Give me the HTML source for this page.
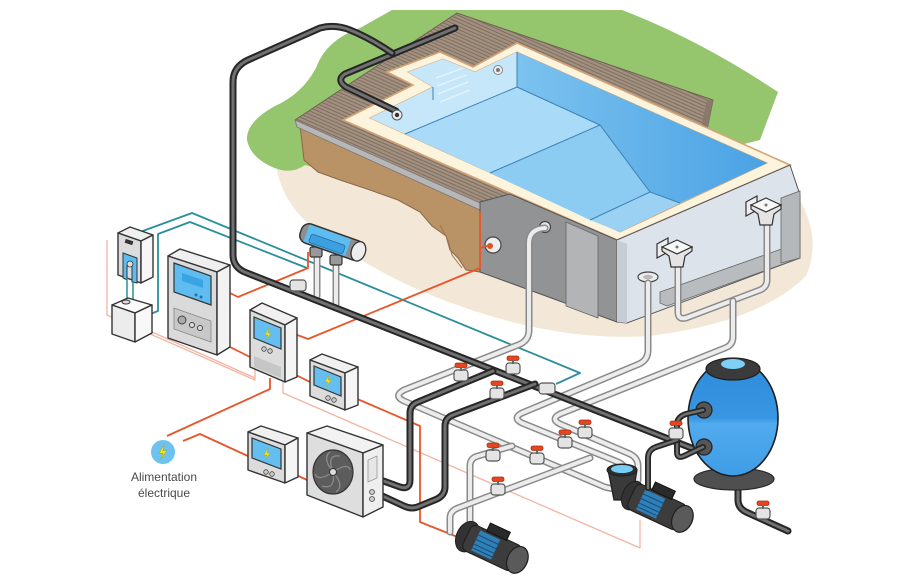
<!DOCTYPE html>
<html><head><meta charset="utf-8"><style>
html,body{margin:0;padding:0;background:#fff;}
svg{display:block;}
.dpo{fill:none;stroke:#262626;stroke-width:7;stroke-linejoin:round;stroke-linecap:round}
.dpi{fill:none;stroke:#707070;stroke-width:3;stroke-linejoin:round;stroke-linecap:round}
.lpo{fill:none;stroke:#8a8a8a;stroke-width:7;stroke-linejoin:round;stroke-linecap:round}
.lpi{fill:none;stroke:#ececec;stroke-width:4;stroke-linejoin:round;stroke-linecap:round}
.or{fill:none;stroke:#e8552a;stroke-width:1.8;stroke-linejoin:round}
.pk{fill:none;stroke:#f3b4a2;stroke-width:1.3;stroke-linejoin:round}
.tl{fill:none;stroke:#2a8f9b;stroke-width:1.8;stroke-linejoin:round}
.bx{stroke:#333;stroke-width:1.4;stroke-linejoin:round}
</style></head><body>
<svg width="920" height="583" viewBox="0 0 920 583" xmlns="http://www.w3.org/2000/svg">
<defs>
<pattern id="deck" width="6" height="3.2" patternUnits="userSpaceOnUse" patternTransform="rotate(23.7)">
<rect width="6" height="3.2" fill="#a39180"/><rect y="2.2" width="6" height="1" fill="#7e6d60"/>
</pattern>
<linearGradient id="deep" x1="0" y1="0" x2="1" y2="0"><stop offset="0" stop-color="#7cc2ef"/><stop offset="1" stop-color="#4aa2e4"/></linearGradient>
<linearGradient id="tank" x1="0" y1="0" x2="0" y2="1"><stop offset="0" stop-color="#2f8bdc"/><stop offset="0.5" stop-color="#3796e2"/><stop offset="0.55" stop-color="#52aaee"/><stop offset="1" stop-color="#3e9de6"/></linearGradient>
<g id="valve"><rect x="-7" y="-5" width="14" height="11" rx="3" fill="#e4e4e4" stroke="#555" stroke-width="1.2"/><rect x="-6" y="-12" width="12" height="4.5" rx="2" fill="#e4461f" stroke="#a92d10" stroke-width="0.8"/><rect x="-1" y="-8" width="2" height="4" fill="#666"/></g>
<g id="coupler"><rect x="-8" y="-5" width="16" height="11" rx="3" fill="#e4e4e4" stroke="#555" stroke-width="1.2"/></g>
<path id="bolt" d="M1,-6 L-3,1 L0,1 L-2,6 L3,-1 L0,-1 Z" fill="#f3e21b" stroke="#b9a800" stroke-width="0.4"/>
</defs>

<!-- ground beige -->
<path d="M278,140 L277,170 Q285,212 330,240 Q390,282 460,306 Q560,342 650,336 Q760,322 806,276 Q822,240 800,200 L700,120 L400,60 Z" fill="#f3e8d8"/>
<!-- grass -->
<path d="M247,140 Q246,122 275,106 Q302,94 316,68 Q326,40 360,28 L392,10 L622,10 Q700,40 778,92 L760,140 L480,210 L305,165 Q290,176 270,166 Q250,156 247,140 Z" fill="#95c56c"/>
<!-- dirt -->
<path d="M300,125 L480,205 L480,272 L466,270 L458,258 L450,250 L446,236 L432,226 L420,212 L398,200 L370,190 L340,180 L318,172 L304,160 Z" fill="#b99266" stroke="#8c6a45" stroke-width="1"/>
<path d="M440,225 L448,240 L452,255 L462,268" fill="none" stroke="#9d7750" stroke-width="1"/>
<!-- deck -->
<polygon points="295,120 457,13 713,100 706,135 790,165 617,240 510,200 480,205" fill="url(#deck)" stroke="#6f6055" stroke-width="1"/>
<polygon points="295,120 480,203 480,210 297,127" fill="#b7b7b7" stroke="#777" stroke-width="0.8"/>
<polygon points="713,100 706,135 700,132 707,100" fill="#8b7a6c"/>
<!-- coping -->
<polygon points="343,120 413,85 387,72 440,52 473,67 517,43 790,165 617,240" fill="#fdf4de" stroke="#d5a577" stroke-width="1.6"/>
<!-- water -->
<polygon points="370,118 433,87 408,72 443,59 475,72 517,52 767,163 620,232" fill="#94cff2" stroke="#d5a577" stroke-width="1"/>
<polygon points="370,118 433,87 408,72 443,59 475,72 517,52 517,87 405,134" fill="#c6e7fa"/>
<polygon points="517,52 767,163 680,203 650,192 600,125 517,87" fill="url(#deep)"/>
<polygon points="405,134 517,87 600,125 490,173" fill="#a9daf7"/>
<polygon points="490,173 600,125 650,192 590,220" fill="#8ccbf2"/>
<polygon points="590,220 650,192 680,203 620,232" fill="#9bd2f4"/>
<g fill="none" stroke="#3c82b6" stroke-width="1">
<path d="M405,134 L517,87 L517,52"/><path d="M517,87 L600,125 L650,192 L680,203"/><path d="M490,173 L600,125"/><path d="M590,220 L650,192"/>
<path d="M433,87 L433,100"/>
</g>
<g stroke="#e6f4fd" stroke-width="1.3"><path d="M436,78 L463,68"/><path d="M437,86 L466,75"/><path d="M438,94 L468,82"/><path d="M440,102 L470,90"/></g>
<!-- pool body -->
<polygon points="480,202 510,194 617,240 617,322 480,272" fill="#929394" stroke="#555" stroke-width="1"/>
<polygon points="566,222 598,236 598,318 566,306" fill="#b3b4b5" stroke="#666" stroke-width="0.8"/>
<polygon points="617,240 790,165 800,195 800,258 627,323 617,322" fill="#dce3ea" stroke="#555" stroke-width="1"/>
<polygon points="660,292 790,246 800,246 800,258 667,306 660,303" fill="#b9bcbf" stroke="#666" stroke-width="0.8"/>
<polygon points="781,198 800,191 800,258 781,263" fill="#b5b8bb" stroke="#666" stroke-width="0.8"/>
<polygon points="617,240 627,244 627,323 617,322" fill="#c5ccd3"/>
<!-- deck pipes -->
<path class="dpo" d="M455,28 L345,74 Q336,80 346,87 L396,111"/><path class="dpi" d="M455,28 L345,74 Q336,80 346,87 L396,111"/>
<!-- pool fittings -->
<circle cx="397" cy="115" r="5" fill="#eee" stroke="#555"/><circle cx="397" cy="115" r="2.2" fill="#333"/>
<circle cx="498" cy="70" r="4.5" fill="#eee" stroke="#888"/><circle cx="498" cy="70" r="2" fill="#777"/>
<circle cx="493" cy="245" r="8" fill="#eee" stroke="#444" stroke-width="1.2"/><circle cx="490" cy="246" r="3" fill="#d9532a"/>
<circle cx="545" cy="227" r="5.5" fill="#e6e6e6" stroke="#444" stroke-width="1.2"/>
<ellipse cx="648" cy="277" rx="10" ry="5" fill="#eee" stroke="#444" stroke-width="1.2"/><ellipse cx="648" cy="277" rx="5" ry="2.3" fill="#bbb"/>

<!-- pink lines -->
<path class="pk" d="M107,240 L107,315 L255,380 L255,360"/>
<path class="pk" d="M152,332 L255,378"/>
<path class="pk" d="M283,382 L283,393 L640,548 L640,520"/>
<!-- teal -->
<path class="tl" d="M140,232 L192,213 L580,373 L556,384"/>
<path class="tl" d="M140,318 L158,311 L158,234 L190,222 L307,268"/>
<!-- orange -->
<path class="or" d="M220,288 L238,297 L308,268 L308,252"/>
<path class="or" d="M292,333 L308,339 L480,268 L480,212"/>
<path class="or" d="M480,248 L490,245"/>
<path class="or" d="M222,343 L250,357"/>
<path class="or" d="M270,378 L270,389 L167,436"/>
<path class="or" d="M183,441 L200,434 L250,457"/>
<path class="or" d="M292,473 L307,480"/>
<path class="or" d="M355,398 L420,426 L420,522 L460,538"/>
<path class="or" d="M292,373 L310,382"/>

<!-- light pipes -->
<g>
<path class="lpo" d="M545,228 Q529,229 529,243 L529,330 Q529,341 518,345 L404,390 Q393,396 404,401 L600,485 Q610,490 620,488"/>
<path class="lpi" d="M545,228 Q529,229 529,243 L529,330 Q529,341 518,345 L404,390 Q393,396 404,401 L600,485 Q610,490 620,488"/>
<path class="lpo" d="M648,283 L648,350 Q648,360 639,364 L522,413 Q512,418 522,423 L618,462 Q625,465 625,472 L625,482"/>
<path class="lpi" d="M648,283 L648,350 Q648,360 639,364 L522,413 Q512,418 522,423 L618,462 Q625,465 625,472 L625,482"/>
<path class="lpo" d="M678,262 L678,312 Q678,320 686,318 L760,290 Q767,287 767,280 L767,226"/>
<path class="lpi" d="M678,262 L678,312 Q678,320 686,318 L760,290 Q767,287 767,280 L767,226"/>
<path class="lpo" d="M733,301 L733,337 Q733,345 725,348 L560,414 Q550,419 560,424 L630,454 Q638,458 638,466 L638,480"/>
<path class="lpi" d="M733,301 L733,337 Q733,345 725,348 L560,414 Q550,419 560,424 L630,454 Q638,458 638,466 L638,480"/>
<path class="lpo" d="M470,530 L470,466 Q470,458 478,456 L512,446"/>
<path class="lpi" d="M470,530 L470,466 Q470,458 478,456 L512,446"/>
<path class="lpo" d="M450,532 L450,518 Q450,511 458,508 L590,458"/>
<path class="lpi" d="M450,532 L450,518 Q450,511 458,508 L590,458"/>
<path class="lpo" d="M317,255 L317,296 M336,262 L336,304"/>
<path class="lpi" d="M317,255 L317,296 M336,262 L336,304"/>
</g>

<!-- dark pipes -->
<path class="dpo" d="M392,53 Q370,38 350,30 Q335,24 320,28 L248,60 Q233,67 233,82 L233,255 Q233,268 247,273 L732,464 Q738,467 738,474 L738,500 Q738,508 746,512 L788,531"/>
<path class="dpi" d="M392,53 Q370,38 350,30 Q335,24 320,28 L248,60 Q233,67 233,82 L233,255 Q233,268 247,273 L732,464 Q738,467 738,474 L738,500 Q738,508 746,512 L788,531"/>
<path class="dpo" d="M378,479 L400,487 Q410,490 410,480 L410,413 Q410,405 418,402 L493,371"/>
<path class="dpi" d="M378,479 L400,487 Q410,490 410,480 L410,413 Q410,405 418,402 L493,371"/>
<path class="dpo" d="M378,494 L404,506 Q412,510 420,506 L437,499 Q445,495 445,487 L445,426 Q445,418 453,415 L535,384"/>
<path class="dpi" d="M378,494 L404,506 Q412,510 420,506 L437,499 Q445,495 445,487 L445,426 Q445,418 453,415 L535,384"/>

<!-- chlorinator -->
<g>
<rect x="310" y="247" width="12" height="10" rx="2" fill="#999" stroke="#333" stroke-width="1.2"/>
<rect x="330" y="255" width="12" height="10" rx="2" fill="#999" stroke="#333" stroke-width="1.2"/>
<g transform="translate(332,242) rotate(19.5)">
<rect x="-33" y="-10" width="66" height="20" rx="8" fill="#8e8e8e" stroke="#333" stroke-width="1.5"/>
<rect x="-27" y="-9" width="44" height="18" fill="#5dbdf0"/>
<rect x="-22" y="-1" width="36" height="9" rx="2" fill="#3b9fe0" stroke="#2a6f9f" stroke-width="0.8"/>
<ellipse cx="28" cy="0" rx="7" ry="10" fill="#eee" stroke="#333" stroke-width="1.3"/>
</g>
</g>
<use href="#coupler" x="298" y="285"/>

<!-- dosing box -->
<g class="bx">
<polygon points="118,233 130,227 153,235 141,241" fill="#f0f0f0"/>
<polygon points="118,233 141,241 141,283 118,275" fill="#dcdcdc"/>
<polygon points="141,241 153,235 153,277 141,283" fill="#f6f6f6"/>
</g>
<rect x="125" y="240" width="8" height="4" fill="#333" transform="rotate(18 129 242)"/>
<path d="M123,253 L137,258 L137,283 L132,282 L132,265 Q128,262 127,266 L127,280 L123,278 Z" fill="#5dbdf0" stroke="#333" stroke-width="1"/>
<circle cx="130" cy="264" r="3" fill="#ddd" stroke="#333" stroke-width="0.8"/>
<path d="M127,278 L127,300 M133,281 L133,300" stroke="#2a8f9b" stroke-width="1.5"/>
<g class="bx">
<polygon points="112,305 128,298 152,305 135,313" fill="#fafafa"/>
<polygon points="112,305 135,313 135,342 112,334" fill="#ececec"/>
<polygon points="135,313 152,305 152,333 135,342" fill="#f8f8f8"/>
</g>
<ellipse cx="126" cy="302" rx="4" ry="2" fill="#ddd" stroke="#333" stroke-width="1"/>

<!-- big controller -->
<g class="bx">
<polygon points="168,256 180,249 230,265 217,272" fill="#efefef"/>
<polygon points="168,256 217,272 217,355 168,338" fill="#dadada"/>
<polygon points="217,272 230,265 230,347 217,355" fill="#f2f2f2"/>
</g>
<polygon points="174,263 211,276 211,305 174,292" fill="#5fbcf0" stroke="#333" stroke-width="1.2"/>
<polygon points="182,273 203,280 203,288 182,281" fill="#3aa3e4"/>
<circle cx="196" cy="295" r="1.5" fill="#2a6f9f"/><circle cx="201" cy="297" r="1.5" fill="#2a6f9f"/>
<polygon points="174,308 211,321 211,342 174,329" fill="#c8c8c8" stroke="#888" stroke-width="0.8"/>
<circle cx="182" cy="320" r="4" fill="#aaa" stroke="#444"/><circle cx="192" cy="325" r="2.5" fill="#ddd" stroke="#444"/><circle cx="200" cy="328" r="2.5" fill="#ddd" stroke="#444"/>

<!-- box 2 -->
<g class="bx">
<polygon points="250,310 262,303 297,318 285,325" fill="#f0f0f0"/>
<polygon points="250,310 285,325 285,382 250,367" fill="#dcdcdc"/>
<polygon points="285,325 297,318 297,377 285,382" fill="#f5f5f5"/>
</g>
<polygon points="254,317 281,328 281,349 254,338" fill="#64bff0" stroke="#333" stroke-width="1.2"/>
<use href="#bolt" x="268" y="334"/>
<circle cx="264" cy="349" r="2.3" fill="#ccc" stroke="#444" stroke-width="0.8"/><circle cx="270" cy="351" r="2.3" fill="#ccc" stroke="#444" stroke-width="0.8"/>
<polygon points="254,356 281,367 281,378 254,367" fill="#c6c6c6"/>

<!-- box 3 -->
<g class="bx">
<polygon points="310,360 322,354 358,367 345,373" fill="#f0f0f0"/>
<polygon points="310,360 345,373 345,410 310,396" fill="#dcdcdc"/>
<polygon points="345,373 358,367 358,405 345,410" fill="#f5f5f5"/>
</g>
<polygon points="314,366 341,377 341,396 314,385" fill="#64bff0" stroke="#333" stroke-width="1.2"/>
<use href="#bolt" x="328" y="381"/>
<circle cx="328" cy="398" r="2.3" fill="#ccc" stroke="#444" stroke-width="0.8"/><circle cx="334" cy="400" r="2.3" fill="#ccc" stroke="#444" stroke-width="0.8"/>

<!-- box 4 -->
<g class="bx">
<polygon points="248,432 261,426 298,438 285,445" fill="#f0f0f0"/>
<polygon points="248,432 285,445 285,483 248,470" fill="#dcdcdc"/>
<polygon points="285,445 298,438 298,477 285,483" fill="#f5f5f5"/>
</g>
<polygon points="252,438 281,449 281,469 252,458" fill="#64bff0" stroke="#333" stroke-width="1.2"/>
<use href="#bolt" x="267" y="454"/>
<circle cx="266" cy="472" r="2.3" fill="#ccc" stroke="#444" stroke-width="0.8"/><circle cx="272" cy="474" r="2.3" fill="#ccc" stroke="#444" stroke-width="0.8"/>

<!-- heat pump -->
<g class="bx">
<polygon points="307,433 327,426 383,445 363,453" fill="#f2f2f2"/>
<polygon points="307,433 363,453 363,517 307,495" fill="#dedede"/>
<polygon points="363,453 383,445 383,507 363,517" fill="#efefef"/>
</g>
<ellipse cx="333" cy="472" rx="20" ry="22" fill="#5c5c5c" stroke="#333" stroke-width="1.2"/>
<g fill="none" stroke="#8a8a8a" stroke-width="1.3">
<path d="M333,472 Q322,458 330,452"/><path d="M333,472 Q348,462 350,470"/><path d="M333,472 Q345,486 336,492"/><path d="M333,472 Q318,482 315,474"/><path d="M333,472 Q326,454 340,456"/><path d="M333,472 Q336,490 322,486"/>
</g>
<circle cx="333" cy="472" r="3.5" fill="#ddd" stroke="#333"/>
<polygon points="368,460 377,456 377,478 368,482" fill="#e6e6e6" stroke="#999" stroke-width="0.8"/>
<circle cx="372" cy="492" r="2.5" fill="#ccc" stroke="#444" stroke-width="0.8"/><circle cx="372" cy="499" r="2.5" fill="#ccc" stroke="#444" stroke-width="0.8"/>

<!-- alimentation -->
<circle cx="163" cy="452" r="12" fill="#6cc2f0"/>
<use href="#bolt" x="163" y="452" transform="translate(163 452) scale(1.3) translate(-163 -452)"/>
<text x="164" y="481" font-family="Liberation Sans, sans-serif" font-size="12" fill="#4a4a4a" text-anchor="middle">Alimentation</text>
<text x="164" y="497" font-family="Liberation Sans, sans-serif" font-size="12" fill="#4a4a4a" text-anchor="middle">électrique</text>

<!-- skimmers -->
<g>
<polygon points="657,244 668,238 668,252 657,258" fill="#eee" stroke="#333" stroke-width="1.2"/>
<polygon points="662,247 677,240 692,247 677,254" fill="#f7f7f7" stroke="#333" stroke-width="1.2"/>
<path d="M662,247 L677,254 L692,247 L692,251 L685,256 L683,267 L671,267 L669,256 L662,251 Z" fill="#e4e4e4" stroke="#333" stroke-width="1.2"/>
<circle cx="677" cy="247" r="1.5" fill="#777"/>
<polygon points="746,202 757,196 757,210 746,216" fill="#eee" stroke="#333" stroke-width="1.2"/>
<polygon points="751,205 766,198 781,205 766,212" fill="#f7f7f7" stroke="#333" stroke-width="1.2"/>
<path d="M751,205 L766,212 L781,205 L781,209 L774,214 L772,225 L760,225 L758,214 L751,209 Z" fill="#e4e4e4" stroke="#333" stroke-width="1.2"/>
<circle cx="766" cy="205" r="1.5" fill="#777"/>
</g>

<!-- filter -->
<ellipse cx="734" cy="479" rx="40" ry="11" fill="#4f4f4f" stroke="#2a2a2a" stroke-width="1.2"/>
<ellipse cx="733" cy="418" rx="45" ry="58" fill="url(#tank)" stroke="#1f1f1f" stroke-width="1.6"/>
<ellipse cx="733" cy="369" rx="27" ry="11" fill="#3b3b3b" stroke="#1f1f1f" stroke-width="1.2"/>
<ellipse cx="733" cy="364" rx="12" ry="5" fill="#7fd0f6"/>
<circle cx="704" cy="410" r="8" fill="#555" stroke="#222" stroke-width="1.2"/>
<circle cx="704" cy="447" r="8" fill="#555" stroke="#222" stroke-width="1.2"/>
<path class="dpo" style="stroke-width:6" d="M703,410 L686,414 Q677,417 677,425 L677,452 Q677,459 684,456 L703,447"/>
<path class="dpi" style="stroke-width:2.5" d="M703,410 L686,414 Q677,417 677,425 L677,452 Q677,459 684,456 L703,447"/>

<!-- pump 2 -->
<g>
<path d="M608,470 L637,470 L632,500 L614,500 Z" fill="#3a3a3a" stroke="#1f1f1f" stroke-width="1.2"/>
<ellipse cx="622" cy="470" rx="15" ry="6" fill="#2e2e2e" stroke="#1f1f1f"/>
<ellipse cx="622" cy="469" rx="11" ry="4" fill="#77cdf5"/>
<g transform="translate(657,507) rotate(25)">
<ellipse cx="-27" cy="0" rx="10" ry="15" fill="#333" stroke="#1f1f1f"/>
<rect x="-28" y="-14" width="56" height="28" rx="6" fill="#3c3c3c" stroke="#1f1f1f" stroke-width="1.2"/>
<rect x="-18" y="-11" width="22" height="22" fill="#2f7fb8"/>
<path d="M-18,-6 H4 M-18,-1 H4 M-18,4 H4 M-18,8 H4" stroke="#164d74" stroke-width="1"/>
<rect x="-12" y="-22" width="22" height="9" fill="#2a2a2a" stroke="#111"/>
<ellipse cx="28" cy="0" rx="10" ry="14" fill="#5a5a5a" stroke="#1f1f1f" stroke-width="1.2"/>
</g>
</g>
<path class="dpo" style="stroke-width:6" d="M648,488 L648,458 Q648,450 656,447 L677,440"/>
<path class="dpi" style="stroke-width:2.5" d="M648,488 L648,458 Q648,450 656,447 L677,440"/>

<!-- pump 1 -->
<g transform="translate(492,548) rotate(25)">
<ellipse cx="-27" cy="0" rx="11" ry="16" fill="#333" stroke="#1f1f1f"/>
<rect x="-28" y="-14" width="56" height="28" rx="6" fill="#3c3c3c" stroke="#1f1f1f" stroke-width="1.2"/>
<rect x="-18" y="-11" width="22" height="22" fill="#2f7fb8"/>
<path d="M-18,-6 H4 M-18,-1 H4 M-18,4 H4 M-18,8 H4" stroke="#164d74" stroke-width="1"/>
<rect x="-12" y="-22" width="22" height="9" fill="#2a2a2a" stroke="#111"/>
<ellipse cx="28" cy="0" rx="10" ry="14" fill="#5a5a5a" stroke="#1f1f1f" stroke-width="1.2"/>
</g>

<!-- valves -->
<use href="#valve" x="461" y="375"/>
<use href="#valve" x="513" y="368"/>
<use href="#valve" x="497" y="393"/>
<use href="#coupler" x="547" y="388"/>
<use href="#valve" x="493" y="455"/>
<use href="#valve" x="537" y="458"/>
<use href="#valve" x="565" y="442"/>
<use href="#valve" x="585" y="432"/>
<use href="#valve" x="498" y="489"/>
<use href="#valve" x="676" y="433"/>
<use href="#valve" x="763" y="513"/>
</svg>
</body></html>
